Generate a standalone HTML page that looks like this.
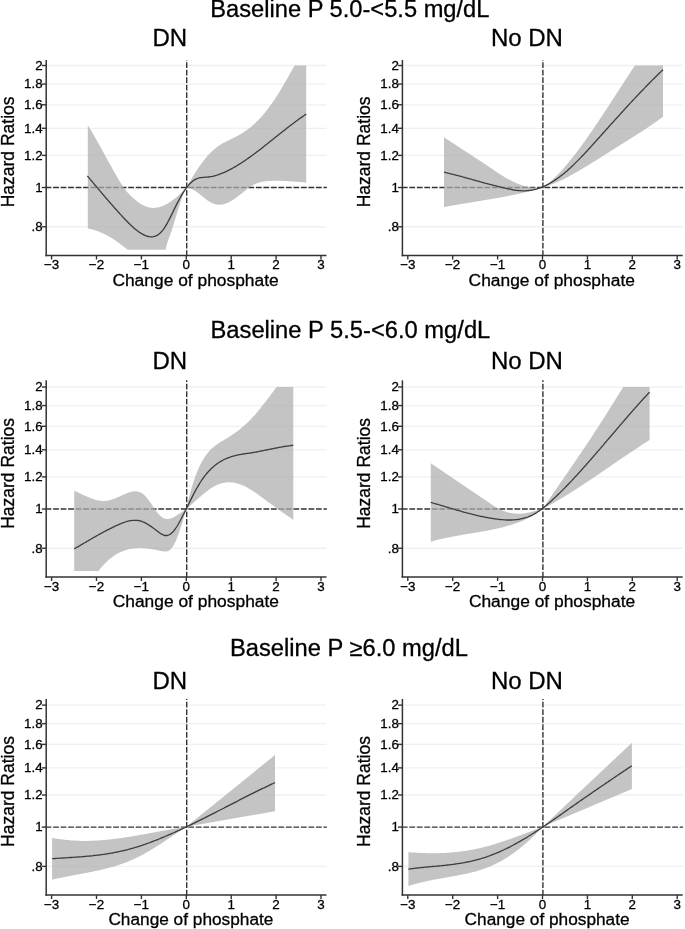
<!DOCTYPE html><html><head><meta charset="utf-8"><style>html,body{margin:0;padding:0;background:#fff;}svg{display:block;}text{font-family:"Liberation Sans",Arial,sans-serif;fill:#000;stroke:#000;stroke-width:0.3px;}</style></head><body>
<svg width="685" height="929" viewBox="0 0 685 929">
<rect width="685" height="929" fill="#ffffff"/>
<text x="210.3" y="16.8" font-size="23.5" textLength="279.1" lengthAdjust="spacingAndGlyphs">Baseline P 5.0-&lt;5.5 mg/dL</text>
<g><line x1="46.20" y1="226.77" x2="326.50" y2="226.77" stroke="#ebf2f2" stroke-width="1.3"/><line x1="46.20" y1="155.41" x2="326.50" y2="155.41" stroke="#ebf2f2" stroke-width="1.3"/><line x1="46.20" y1="128.28" x2="326.50" y2="128.28" stroke="#ebf2f2" stroke-width="1.3"/><line x1="46.20" y1="104.78" x2="326.50" y2="104.78" stroke="#ebf2f2" stroke-width="1.3"/><line x1="46.20" y1="84.05" x2="326.50" y2="84.05" stroke="#ebf2f2" stroke-width="1.3"/><line x1="46.20" y1="65.51" x2="326.50" y2="65.51" stroke="#ebf2f2" stroke-width="1.3"/><line x1="45.60" y1="187.50" x2="326.90" y2="187.50" stroke="#333333" stroke-width="1.4" stroke-dasharray="5.8 1.71"/><line x1="186.70" y1="256.00" x2="186.70" y2="59.90" stroke="#333333" stroke-width="1.4" stroke-dasharray="5.8 1.72"/><path d="M87.8,125.2 L88.8,126.8 89.8,128.5 90.8,130.1 91.8,131.8 92.8,133.5 93.8,135.2 94.8,137.0 95.8,138.7 96.8,140.5 97.8,142.2 98.8,144.0 99.8,145.8 100.8,147.6 101.8,149.4 102.8,151.2 103.8,153.1 104.8,154.9 105.8,156.7 106.8,158.5 107.8,160.4 108.8,162.2 109.8,164.0 110.8,165.8 111.8,167.6 112.8,169.4 113.8,171.2 114.8,173.0 115.8,174.7 116.8,176.5 117.8,178.2 118.8,179.9 119.8,181.5 120.8,183.1 121.8,184.6 122.8,186.1 123.8,187.6 124.8,189.0 125.8,190.3 126.8,191.5 127.8,192.7 128.8,193.8 129.8,194.9 130.8,195.9 131.8,196.8 132.8,197.7 133.8,198.6 134.8,199.5 135.8,200.3 136.8,201.1 137.8,201.9 138.8,202.6 139.8,203.3 140.8,203.9 141.8,204.5 142.8,205.1 143.8,205.6 144.8,206.1 145.8,206.5 146.8,206.8 147.8,207.1 148.8,207.4 149.8,207.6 150.8,207.7 151.8,207.8 152.8,207.9 153.8,207.9 154.8,207.8 155.8,207.7 156.8,207.6 157.8,207.4 158.8,207.2 159.8,206.9 160.8,206.6 161.8,206.3 162.8,205.9 163.8,205.5 164.8,205.0 165.8,204.5 166.8,204.0 167.8,203.4 168.8,202.8 169.8,202.2 170.8,201.5 171.8,200.8 172.8,200.1 173.8,199.3 174.8,198.5 175.8,197.7 176.8,196.9 177.8,196.0 178.8,195.1 179.8,194.1 180.8,193.2 181.8,192.2 182.8,191.2 183.8,190.2 184.8,189.1 185.8,188.0 186.3,187.5 186.3,187.5 187.3,185.7 188.3,184.0 189.3,182.3 190.3,180.6 191.3,178.9 192.3,177.3 193.3,175.7 194.3,174.1 195.3,172.5 196.3,171.0 197.3,169.5 198.3,168.0 199.3,166.6 200.3,165.2 201.3,163.8 202.3,162.4 203.3,161.1 204.3,159.9 205.3,158.6 206.3,157.4 207.3,156.2 208.3,155.1 209.3,154.0 210.3,153.0 211.3,152.0 212.3,151.0 213.3,150.1 214.3,149.2 215.3,148.4 216.3,147.6 217.3,146.8 218.3,146.1 219.3,145.4 220.3,144.8 221.3,144.2 222.3,143.6 223.3,143.0 224.3,142.4 225.3,141.9 226.3,141.4 227.3,140.9 228.3,140.4 229.3,139.9 230.3,139.4 231.3,138.9 232.3,138.4 233.3,138.0 234.3,137.5 235.3,137.0 236.3,136.5 237.3,135.9 238.3,135.4 239.3,134.8 240.3,134.3 241.3,133.7 242.3,133.0 243.3,132.4 244.3,131.8 245.3,131.1 246.3,130.4 247.3,129.7 248.3,128.9 249.3,128.2 250.3,127.4 251.3,126.5 252.3,125.7 253.3,124.8 254.3,123.9 255.3,123.0 256.3,122.1 257.3,121.1 258.3,120.1 259.3,119.1 260.3,118.0 261.3,116.9 262.3,115.8 263.3,114.6 264.3,113.4 265.3,112.2 266.3,110.9 267.3,109.7 268.3,108.3 269.3,107.0 270.3,105.6 271.3,104.2 272.3,102.8 273.3,101.3 274.3,99.9 275.3,98.4 276.3,96.8 277.3,95.2 278.3,93.7 279.3,92.0 280.3,90.4 281.3,88.7 282.3,87.1 283.3,85.4 284.3,83.6 285.3,81.9 286.3,80.2 287.3,78.4 288.3,76.7 289.3,74.9 290.3,73.1 291.3,71.4 292.3,69.6 293.3,67.9 294.3,66.1 294.7,65.4 306.2,65.4 306.2,182.5 305.3,182.4 304.3,182.4 303.3,182.3 302.3,182.2 301.3,182.1 300.3,182.1 299.3,182.0 298.3,181.9 297.3,181.8 296.3,181.7 295.3,181.7 294.3,181.6 293.3,181.5 292.3,181.4 291.3,181.4 290.3,181.3 289.3,181.2 288.3,181.2 287.3,181.1 286.3,181.0 285.3,181.0 284.3,180.9 283.3,180.9 282.3,180.9 281.3,180.8 280.3,180.8 279.3,180.8 278.3,180.8 277.3,180.8 276.3,180.8 275.3,180.8 274.3,180.8 273.3,180.8 272.3,180.8 271.3,180.9 270.3,180.9 269.3,181.0 268.3,181.1 267.3,181.1 266.3,181.2 265.3,181.3 264.3,181.5 263.3,181.6 262.3,181.8 261.3,182.0 260.3,182.2 259.3,182.5 258.3,182.8 257.3,183.2 256.3,183.5 255.3,184.0 254.3,184.4 253.3,185.0 252.3,185.5 251.3,186.1 250.3,186.7 249.3,187.4 248.3,188.1 247.3,188.9 246.3,189.6 245.3,190.4 244.3,191.2 243.3,192.1 242.3,192.9 241.3,193.7 240.3,194.5 239.3,195.3 238.3,196.1 237.3,196.9 236.3,197.6 235.3,198.4 234.3,199.1 233.3,199.7 232.3,200.3 231.3,200.9 230.3,201.5 229.3,202.0 228.3,202.5 227.3,202.9 226.3,203.3 225.3,203.7 224.3,204.0 223.3,204.3 222.3,204.5 221.3,204.6 220.3,204.7 219.3,204.7 218.3,204.7 217.3,204.6 216.3,204.5 215.3,204.3 214.3,204.0 213.3,203.6 212.3,203.2 211.3,202.7 210.3,202.2 209.3,201.6 208.3,200.9 207.3,200.2 206.3,199.5 205.3,198.7 204.3,197.9 203.3,197.1 202.3,196.3 201.3,195.5 200.3,194.7 199.3,193.9 198.3,193.1 197.3,192.4 196.3,191.7 195.3,191.0 194.3,190.3 193.3,189.7 192.3,189.2 191.3,188.7 190.3,188.3 189.3,188.0 188.3,187.7 187.3,187.6 186.3,187.5 186.3,187.5 185.6,188.9 184.6,191.0 183.6,193.4 182.6,196.0 181.6,198.8 180.6,201.7 179.6,204.8 178.6,207.9 177.6,211.2 176.6,214.5 175.6,217.8 174.6,221.1 173.6,224.4 172.6,227.6 171.6,230.7 170.6,233.6 169.6,236.3 168.6,238.9 167.6,241.8 166.6,245.3 165.6,249.8 127.6,249.8 126.8,249.1 125.8,248.3 124.8,247.5 123.8,246.7 122.8,245.9 121.8,245.2 120.8,244.4 119.8,243.6 118.8,242.9 117.8,242.2 116.8,241.5 115.8,240.8 114.8,240.1 113.8,239.4 112.8,238.8 111.8,238.1 110.8,237.5 109.8,236.9 108.8,236.4 107.8,235.8 106.8,235.3 105.8,234.8 104.8,234.3 103.8,233.8 102.8,233.3 101.8,232.9 100.8,232.4 99.8,232.0 98.8,231.6 97.8,231.3 96.8,230.9 95.8,230.6 94.8,230.2 93.8,229.9 92.8,229.6 91.8,229.4 90.8,229.1 89.8,228.9 88.8,228.6 87.8,228.4 Z" fill="#aeaeae" fill-opacity="0.730" stroke="none"/><path d="M87.4,176.0 L88.4,177.2 89.4,178.4 90.4,179.6 91.4,180.7 92.4,181.9 93.4,183.1 94.4,184.3 95.4,185.5 96.4,186.7 97.4,187.9 98.4,189.1 99.4,190.2 100.4,191.4 101.4,192.6 102.4,193.8 103.4,195.0 104.4,196.1 105.4,197.3 106.4,198.5 107.4,199.6 108.4,200.8 109.4,202.0 110.4,203.1 111.4,204.3 112.4,205.4 113.4,206.5 114.4,207.7 115.4,208.8 116.4,209.9 117.4,211.0 118.4,212.2 119.4,213.3 120.4,214.4 121.4,215.4 122.4,216.5 123.4,217.6 124.4,218.7 125.4,219.7 126.4,220.8 127.4,221.8 128.4,222.8 129.4,223.8 130.4,224.8 131.4,225.7 132.4,226.6 133.4,227.5 134.4,228.4 135.4,229.2 136.4,230.0 137.4,230.8 138.4,231.6 139.4,232.3 140.4,232.9 141.4,233.5 142.4,234.1 143.4,234.6 144.4,235.1 145.4,235.6 146.4,235.9 147.4,236.3 148.4,236.5 149.4,236.7 150.4,236.8 151.4,236.9 152.4,236.8 153.4,236.7 154.4,236.4 155.4,236.1 156.4,235.7 157.4,235.1 158.4,234.5 159.4,233.7 160.4,232.8 161.4,231.8 162.4,230.6 163.4,229.3 164.4,227.9 165.4,226.3 166.4,224.7 167.4,222.9 168.4,221.0 169.4,219.1 170.4,217.1 171.4,215.1 172.4,213.1 173.4,211.0 174.4,208.9 175.4,206.9 176.4,204.9 177.4,202.9 178.4,201.0 179.4,199.1 180.4,197.3 181.4,195.6 182.4,193.9 183.4,192.3 184.4,190.7 185.4,189.3 186.4,187.9 187.4,186.6 188.4,185.4 189.4,184.2 190.4,183.2 191.4,182.2 192.4,181.4 193.4,180.6 194.4,179.9 195.4,179.4 196.4,178.9 197.4,178.5 198.4,178.2 199.4,177.9 200.4,177.7 201.4,177.6 202.4,177.5 203.4,177.4 204.4,177.3 205.4,177.2 206.4,177.2 207.4,177.1 208.4,177.0 209.4,176.9 210.4,176.7 211.4,176.6 212.4,176.4 213.4,176.1 214.4,175.9 215.4,175.6 216.4,175.3 217.4,175.0 218.4,174.7 219.4,174.3 220.4,173.9 221.4,173.5 222.4,173.1 223.4,172.7 224.4,172.3 225.4,171.8 226.4,171.3 227.4,170.9 228.4,170.4 229.4,169.9 230.4,169.3 231.4,168.8 232.4,168.3 233.4,167.7 234.4,167.1 235.4,166.6 236.4,166.0 237.4,165.4 238.4,164.7 239.4,164.1 240.4,163.5 241.4,162.9 242.4,162.2 243.4,161.5 244.4,160.9 245.4,160.2 246.4,159.5 247.4,158.8 248.4,158.1 249.4,157.4 250.4,156.7 251.4,156.0 252.4,155.2 253.4,154.5 254.4,153.8 255.4,153.0 256.4,152.3 257.4,151.5 258.4,150.8 259.4,150.0 260.4,149.2 261.4,148.4 262.4,147.7 263.4,146.9 264.4,146.1 265.4,145.3 266.4,144.5 267.4,143.7 268.4,142.9 269.4,142.1 270.4,141.3 271.4,140.5 272.4,139.7 273.4,138.9 274.4,138.1 275.4,137.3 276.4,136.5 277.4,135.7 278.4,134.9 279.4,134.1 280.4,133.3 281.4,132.6 282.4,131.8 283.4,131.0 284.4,130.2 285.4,129.4 286.4,128.6 287.4,127.8 288.4,127.0 289.4,126.3 290.4,125.5 291.4,124.7 292.4,124.0 293.4,123.2 294.4,122.5 295.4,121.7 296.4,121.0 297.4,120.3 298.4,119.5 299.4,118.8 300.4,118.1 301.4,117.4 302.4,116.7 303.4,116.0 304.4,115.3 305.4,114.6 306.2,114.1" fill="none" stroke="#3c3c3c" stroke-width="1.3" stroke-linejoin="round"/><line x1="46.20" y1="59.90" x2="46.20" y2="256.25" stroke="#333333" stroke-width="1.5"/><line x1="45.45" y1="255.50" x2="326.50" y2="255.50" stroke="#333333" stroke-width="1.5"/><line x1="41.80" y1="226.77" x2="46.20" y2="226.77" stroke="#333333" stroke-width="1.4"/><text x="42.60" y="231.07" font-size="13.3" text-anchor="end">.8</text><line x1="41.80" y1="187.50" x2="46.20" y2="187.50" stroke="#333333" stroke-width="1.4"/><text x="42.60" y="191.80" font-size="13.3" text-anchor="end">1</text><line x1="41.80" y1="155.41" x2="46.20" y2="155.41" stroke="#333333" stroke-width="1.4"/><text x="42.60" y="159.71" font-size="13.3" text-anchor="end">1.2</text><line x1="41.80" y1="128.28" x2="46.20" y2="128.28" stroke="#333333" stroke-width="1.4"/><text x="42.60" y="132.58" font-size="13.3" text-anchor="end">1.4</text><line x1="41.80" y1="104.78" x2="46.20" y2="104.78" stroke="#333333" stroke-width="1.4"/><text x="42.60" y="109.08" font-size="13.3" text-anchor="end">1.6</text><line x1="41.80" y1="84.05" x2="46.20" y2="84.05" stroke="#333333" stroke-width="1.4"/><text x="42.60" y="88.35" font-size="13.3" text-anchor="end">1.8</text><line x1="41.80" y1="65.51" x2="46.20" y2="65.51" stroke="#333333" stroke-width="1.4"/><text x="42.60" y="69.81" font-size="13.3" text-anchor="end">2</text><line x1="51.60" y1="255.50" x2="51.60" y2="259.50" stroke="#333333" stroke-width="1.4"/><text x="51.60" y="269.20" font-size="13.4" text-anchor="middle">−3</text><line x1="96.50" y1="255.50" x2="96.50" y2="259.50" stroke="#333333" stroke-width="1.4"/><text x="96.50" y="269.20" font-size="13.4" text-anchor="middle">−2</text><line x1="141.40" y1="255.50" x2="141.40" y2="259.50" stroke="#333333" stroke-width="1.4"/><text x="141.40" y="269.20" font-size="13.4" text-anchor="middle">−1</text><line x1="186.30" y1="255.50" x2="186.30" y2="259.50" stroke="#333333" stroke-width="1.4"/><text x="186.30" y="269.20" font-size="13.4" text-anchor="middle">0</text><line x1="231.20" y1="255.50" x2="231.20" y2="259.50" stroke="#333333" stroke-width="1.4"/><text x="231.20" y="269.20" font-size="13.4" text-anchor="middle">1</text><line x1="276.10" y1="255.50" x2="276.10" y2="259.50" stroke="#333333" stroke-width="1.4"/><text x="276.10" y="269.20" font-size="13.4" text-anchor="middle">2</text><line x1="321.00" y1="255.50" x2="321.00" y2="259.50" stroke="#333333" stroke-width="1.4"/><text x="321.00" y="269.20" font-size="13.4" text-anchor="middle">3</text><text transform="translate(14.00,151.90) rotate(-90)" font-size="17.5" text-anchor="middle">Hazard Ratios</text><text x="112.40" y="285.70" font-size="17.3" textLength="166.3" lengthAdjust="spacingAndGlyphs">Change of phosphate</text><text x="152.50" y="46.40" font-size="24">DN</text></g>
<g><line x1="402.40" y1="226.77" x2="682.70" y2="226.77" stroke="#ebf2f2" stroke-width="1.3"/><line x1="402.40" y1="155.41" x2="682.70" y2="155.41" stroke="#ebf2f2" stroke-width="1.3"/><line x1="402.40" y1="128.28" x2="682.70" y2="128.28" stroke="#ebf2f2" stroke-width="1.3"/><line x1="402.40" y1="104.78" x2="682.70" y2="104.78" stroke="#ebf2f2" stroke-width="1.3"/><line x1="402.40" y1="84.05" x2="682.70" y2="84.05" stroke="#ebf2f2" stroke-width="1.3"/><line x1="402.40" y1="65.51" x2="682.70" y2="65.51" stroke="#ebf2f2" stroke-width="1.3"/><line x1="401.80" y1="187.50" x2="683.10" y2="187.50" stroke="#333333" stroke-width="1.4" stroke-dasharray="5.8 1.71"/><line x1="542.90" y1="256.00" x2="542.90" y2="59.90" stroke="#333333" stroke-width="1.4" stroke-dasharray="5.8 1.72"/><path d="M444.0,137.2 L445.0,137.9 446.0,138.5 447.0,139.2 448.0,139.9 449.0,140.5 450.0,141.2 451.0,141.9 452.0,142.5 453.0,143.2 454.0,143.8 455.0,144.5 456.0,145.1 457.0,145.8 458.0,146.4 459.0,147.1 460.0,147.7 461.0,148.4 462.0,149.1 463.0,149.7 464.0,150.4 465.0,151.0 466.0,151.7 467.0,152.3 468.0,153.0 469.0,153.6 470.0,154.3 471.0,154.9 472.0,155.6 473.0,156.2 474.0,156.9 475.0,157.5 476.0,158.2 477.0,158.8 478.0,159.5 479.0,160.2 480.0,160.8 481.0,161.5 482.0,162.1 483.0,162.8 484.0,163.5 485.0,164.1 486.0,164.8 487.0,165.5 488.0,166.1 489.0,166.8 490.0,167.5 491.0,168.2 492.0,168.8 493.0,169.5 494.0,170.2 495.0,170.9 496.0,171.5 497.0,172.2 498.0,172.9 499.0,173.5 500.0,174.2 501.0,174.8 502.0,175.4 503.0,176.0 504.0,176.7 505.0,177.3 506.0,177.9 507.0,178.4 508.0,179.0 509.0,179.6 510.0,180.1 511.0,180.6 512.0,181.1 513.0,181.6 514.0,182.1 515.0,182.6 516.0,183.0 517.0,183.4 518.0,183.8 519.0,184.2 520.0,184.6 521.0,185.0 522.0,185.3 523.0,185.6 524.0,185.9 525.0,186.2 526.0,186.4 527.0,186.6 528.0,186.9 529.0,187.0 530.0,187.2 531.0,187.3 532.0,187.5 533.0,187.6 534.0,187.6 535.0,187.7 536.0,187.7 537.0,187.7 538.0,187.7 539.0,187.7 540.0,187.6 541.0,187.5 542.0,187.4 542.9,187.3 542.9,187.3 543.9,186.6 544.9,185.9 545.9,185.2 546.9,184.4 547.9,183.6 548.9,182.8 549.9,182.0 550.9,181.1 551.9,180.2 552.9,179.3 553.9,178.4 554.9,177.4 555.9,176.4 556.9,175.4 557.9,174.4 558.9,173.4 559.9,172.3 560.9,171.3 561.9,170.2 562.9,169.1 563.9,167.9 564.9,166.8 565.9,165.6 566.9,164.4 567.9,163.2 568.9,162.0 569.9,160.8 570.9,159.5 571.9,158.3 572.9,157.0 573.9,155.7 574.9,154.5 575.9,153.2 576.9,151.8 577.9,150.5 578.9,149.2 579.9,147.8 580.9,146.5 581.9,145.1 582.9,143.7 583.9,142.3 584.9,140.9 585.9,139.5 586.9,138.1 587.9,136.7 588.9,135.3 589.9,133.8 590.9,132.4 591.9,130.9 592.9,129.5 593.9,128.0 594.9,126.5 595.9,125.1 596.9,123.6 597.9,122.1 598.9,120.6 599.9,119.1 600.9,117.6 601.9,116.1 602.9,114.6 603.9,113.0 604.9,111.5 605.9,110.0 606.9,108.5 607.9,106.9 608.9,105.4 609.9,103.9 610.9,102.3 611.9,100.8 612.9,99.3 613.9,97.7 614.9,96.2 615.9,94.6 616.9,93.1 617.9,91.5 618.9,90.0 619.9,88.5 620.9,86.9 621.9,85.4 622.9,83.8 623.9,82.3 624.9,80.8 625.9,79.2 626.9,77.7 627.9,76.2 628.9,74.6 629.9,73.1 630.9,71.6 631.9,70.1 632.9,68.6 633.9,67.1 634.9,65.6 635.0,65.4 663.0,65.4 663.0,116.6 662.9,116.7 661.9,117.4 660.9,118.2 659.9,119.0 658.9,119.7 657.9,120.4 656.9,121.2 655.9,121.9 654.9,122.6 653.9,123.3 652.9,124.0 651.9,124.7 650.9,125.4 649.9,126.1 648.9,126.8 647.9,127.5 646.9,128.1 645.9,128.8 644.9,129.4 643.9,130.1 642.9,130.8 641.9,131.4 640.9,132.0 639.9,132.7 638.9,133.3 637.9,134.0 636.9,134.6 635.9,135.2 634.9,135.9 633.9,136.5 632.9,137.1 631.9,137.8 630.9,138.4 629.9,139.0 628.9,139.6 627.9,140.3 626.9,140.9 625.9,141.5 624.9,142.1 623.9,142.8 622.9,143.4 621.9,144.0 620.9,144.6 619.9,145.3 618.9,145.9 617.9,146.5 616.9,147.2 615.9,147.8 614.9,148.4 613.9,149.1 612.9,149.7 611.9,150.3 610.9,151.0 609.9,151.6 608.9,152.2 607.9,152.9 606.9,153.5 605.9,154.1 604.9,154.8 603.9,155.4 602.9,156.0 601.9,156.7 600.9,157.3 599.9,157.9 598.9,158.5 597.9,159.2 596.9,159.8 595.9,160.4 594.9,161.1 593.9,161.7 592.9,162.3 591.9,162.9 590.9,163.5 589.9,164.2 588.9,164.8 587.9,165.4 586.9,166.0 585.9,166.6 584.9,167.2 583.9,167.8 582.9,168.4 581.9,169.0 580.9,169.6 579.9,170.2 578.9,170.8 577.9,171.4 576.9,171.9 575.9,172.5 574.9,173.1 573.9,173.6 572.9,174.2 571.9,174.8 570.9,175.3 569.9,175.8 568.9,176.4 567.9,176.9 566.9,177.4 565.9,177.9 564.9,178.4 563.9,178.9 562.9,179.4 561.9,179.9 560.9,180.4 559.9,180.8 558.9,181.3 557.9,181.8 556.9,182.2 555.9,182.6 554.9,183.0 553.9,183.5 552.9,183.9 551.9,184.3 550.9,184.6 549.9,185.0 548.9,185.4 547.9,185.7 546.9,186.1 545.9,186.4 544.9,186.7 543.9,187.0 542.9,187.3 542.9,187.3 542.0,187.6 541.0,187.9 540.0,188.2 539.0,188.5 538.0,188.8 537.0,189.1 536.0,189.4 535.0,189.7 534.0,189.9 533.0,190.2 532.0,190.5 531.0,190.8 530.0,191.0 529.0,191.3 528.0,191.5 527.0,191.8 526.0,192.1 525.0,192.3 524.0,192.5 523.0,192.8 522.0,193.0 521.0,193.3 520.0,193.5 519.0,193.7 518.0,193.9 517.0,194.2 516.0,194.4 515.0,194.6 514.0,194.8 513.0,195.0 512.0,195.2 511.0,195.4 510.0,195.6 509.0,195.8 508.0,196.0 507.0,196.2 506.0,196.4 505.0,196.6 504.0,196.8 503.0,197.0 502.0,197.2 501.0,197.4 500.0,197.5 499.0,197.7 498.0,197.9 497.0,198.1 496.0,198.3 495.0,198.4 494.0,198.6 493.0,198.8 492.0,198.9 491.0,199.1 490.0,199.3 489.0,199.5 488.0,199.6 487.0,199.8 486.0,200.0 485.0,200.1 484.0,200.3 483.0,200.4 482.0,200.6 481.0,200.8 480.0,200.9 479.0,201.1 478.0,201.3 477.0,201.4 476.0,201.6 475.0,201.7 474.0,201.9 473.0,202.1 472.0,202.2 471.0,202.4 470.0,202.5 469.0,202.7 468.0,202.9 467.0,203.0 466.0,203.2 465.0,203.4 464.0,203.5 463.0,203.7 462.0,203.9 461.0,204.0 460.0,204.2 459.0,204.4 458.0,204.5 457.0,204.7 456.0,204.9 455.0,205.1 454.0,205.2 453.0,205.4 452.0,205.6 451.0,205.8 450.0,206.0 449.0,206.1 448.0,206.3 447.0,206.5 446.0,206.7 445.0,206.9 444.0,207.1 Z" fill="#aeaeae" fill-opacity="0.730" stroke="none"/><path d="M444.0,172.1 L445.0,172.3 446.0,172.6 447.0,172.8 448.0,173.1 449.0,173.3 450.0,173.6 451.0,173.8 452.0,174.1 453.0,174.3 454.0,174.6 455.0,174.8 456.0,175.1 457.0,175.4 458.0,175.6 459.0,175.9 460.0,176.2 461.0,176.4 462.0,176.7 463.0,177.0 464.0,177.3 465.0,177.5 466.0,177.8 467.0,178.1 468.0,178.4 469.0,178.6 470.0,178.9 471.0,179.2 472.0,179.5 473.0,179.8 474.0,180.0 475.0,180.3 476.0,180.6 477.0,180.9 478.0,181.1 479.0,181.4 480.0,181.7 481.0,182.0 482.0,182.3 483.0,182.5 484.0,182.8 485.0,183.1 486.0,183.4 487.0,183.6 488.0,183.9 489.0,184.2 490.0,184.4 491.0,184.7 492.0,185.0 493.0,185.2 494.0,185.5 495.0,185.7 496.0,186.0 497.0,186.2 498.0,186.5 499.0,186.7 500.0,187.0 501.0,187.2 502.0,187.5 503.0,187.7 504.0,187.9 505.0,188.2 506.0,188.4 507.0,188.6 508.0,188.8 509.0,189.0 510.0,189.2 511.0,189.4 512.0,189.6 513.0,189.8 514.0,190.0 515.0,190.1 516.0,190.3 517.0,190.4 518.0,190.5 519.0,190.6 520.0,190.7 521.0,190.7 522.0,190.8 523.0,190.8 524.0,190.8 525.0,190.8 526.0,190.8 527.0,190.7 528.0,190.6 529.0,190.5 530.0,190.4 531.0,190.3 532.0,190.1 533.0,189.9 534.0,189.7 535.0,189.4 536.0,189.2 537.0,188.9 538.0,188.6 539.0,188.2 540.0,187.9 541.0,187.5 542.0,187.1 543.0,186.7 544.0,186.3 545.0,185.8 546.0,185.3 547.0,184.8 548.0,184.3 549.0,183.8 550.0,183.2 551.0,182.6 552.0,182.0 553.0,181.4 554.0,180.8 555.0,180.1 556.0,179.4 557.0,178.7 558.0,178.0 559.0,177.3 560.0,176.6 561.0,175.8 562.0,175.0 563.0,174.2 564.0,173.4 565.0,172.6 566.0,171.7 567.0,170.9 568.0,170.0 569.0,169.1 570.0,168.2 571.0,167.3 572.0,166.3 573.0,165.4 574.0,164.4 575.0,163.4 576.0,162.4 577.0,161.4 578.0,160.4 579.0,159.4 580.0,158.4 581.0,157.4 582.0,156.3 583.0,155.2 584.0,154.2 585.0,153.1 586.0,152.0 587.0,151.0 588.0,149.9 589.0,148.8 590.0,147.7 591.0,146.6 592.0,145.5 593.0,144.4 594.0,143.3 595.0,142.2 596.0,141.0 597.0,139.9 598.0,138.8 599.0,137.7 600.0,136.6 601.0,135.5 602.0,134.3 603.0,133.2 604.0,132.1 605.0,131.0 606.0,129.9 607.0,128.8 608.0,127.7 609.0,126.5 610.0,125.4 611.0,124.3 612.0,123.2 613.0,122.1 614.0,121.0 615.0,119.9 616.0,118.8 617.0,117.7 618.0,116.6 619.0,115.5 620.0,114.4 621.0,113.3 622.0,112.2 623.0,111.1 624.0,110.0 625.0,108.9 626.0,107.8 627.0,106.7 628.0,105.6 629.0,104.5 630.0,103.4 631.0,102.4 632.0,101.3 633.0,100.2 634.0,99.1 635.0,98.1 636.0,97.0 637.0,96.0 638.0,94.9 639.0,93.8 640.0,92.8 641.0,91.7 642.0,90.7 643.0,89.7 644.0,88.6 645.0,87.6 646.0,86.5 647.0,85.5 648.0,84.5 649.0,83.5 650.0,82.5 651.0,81.5 652.0,80.4 653.0,79.4 654.0,78.5 655.0,77.5 656.0,76.5 657.0,75.5 658.0,74.5 659.0,73.5 660.0,72.6 661.0,71.6 662.0,70.7 663.0,69.7" fill="none" stroke="#3c3c3c" stroke-width="1.3" stroke-linejoin="round"/><line x1="402.40" y1="59.90" x2="402.40" y2="256.25" stroke="#333333" stroke-width="1.5"/><line x1="401.65" y1="255.50" x2="682.70" y2="255.50" stroke="#333333" stroke-width="1.5"/><line x1="398.00" y1="226.77" x2="402.40" y2="226.77" stroke="#333333" stroke-width="1.4"/><text x="398.80" y="231.07" font-size="13.3" text-anchor="end">.8</text><line x1="398.00" y1="187.50" x2="402.40" y2="187.50" stroke="#333333" stroke-width="1.4"/><text x="398.80" y="191.80" font-size="13.3" text-anchor="end">1</text><line x1="398.00" y1="155.41" x2="402.40" y2="155.41" stroke="#333333" stroke-width="1.4"/><text x="398.80" y="159.71" font-size="13.3" text-anchor="end">1.2</text><line x1="398.00" y1="128.28" x2="402.40" y2="128.28" stroke="#333333" stroke-width="1.4"/><text x="398.80" y="132.58" font-size="13.3" text-anchor="end">1.4</text><line x1="398.00" y1="104.78" x2="402.40" y2="104.78" stroke="#333333" stroke-width="1.4"/><text x="398.80" y="109.08" font-size="13.3" text-anchor="end">1.6</text><line x1="398.00" y1="84.05" x2="402.40" y2="84.05" stroke="#333333" stroke-width="1.4"/><text x="398.80" y="88.35" font-size="13.3" text-anchor="end">1.8</text><line x1="398.00" y1="65.51" x2="402.40" y2="65.51" stroke="#333333" stroke-width="1.4"/><text x="398.80" y="69.81" font-size="13.3" text-anchor="end">2</text><line x1="407.80" y1="255.50" x2="407.80" y2="259.50" stroke="#333333" stroke-width="1.4"/><text x="407.80" y="269.20" font-size="13.4" text-anchor="middle">−3</text><line x1="452.70" y1="255.50" x2="452.70" y2="259.50" stroke="#333333" stroke-width="1.4"/><text x="452.70" y="269.20" font-size="13.4" text-anchor="middle">−2</text><line x1="497.60" y1="255.50" x2="497.60" y2="259.50" stroke="#333333" stroke-width="1.4"/><text x="497.60" y="269.20" font-size="13.4" text-anchor="middle">−1</text><line x1="542.50" y1="255.50" x2="542.50" y2="259.50" stroke="#333333" stroke-width="1.4"/><text x="542.50" y="269.20" font-size="13.4" text-anchor="middle">0</text><line x1="587.40" y1="255.50" x2="587.40" y2="259.50" stroke="#333333" stroke-width="1.4"/><text x="587.40" y="269.20" font-size="13.4" text-anchor="middle">1</text><line x1="632.30" y1="255.50" x2="632.30" y2="259.50" stroke="#333333" stroke-width="1.4"/><text x="632.30" y="269.20" font-size="13.4" text-anchor="middle">2</text><line x1="677.20" y1="255.50" x2="677.20" y2="259.50" stroke="#333333" stroke-width="1.4"/><text x="677.20" y="269.20" font-size="13.4" text-anchor="middle">3</text><text transform="translate(370.20,151.90) rotate(-90)" font-size="17.5" text-anchor="middle">Hazard Ratios</text><text x="468.60" y="285.70" font-size="17.3" textLength="166.3" lengthAdjust="spacingAndGlyphs">Change of phosphate</text><text x="490.90" y="46.40" font-size="24">No DN</text></g>
<text x="210.5" y="337.6" font-size="23.5" textLength="279.8" lengthAdjust="spacingAndGlyphs">Baseline P 5.5-&lt;6.0 mg/dL</text>
<g><line x1="46.20" y1="548.27" x2="326.50" y2="548.27" stroke="#ebf2f2" stroke-width="1.3"/><line x1="46.20" y1="476.91" x2="326.50" y2="476.91" stroke="#ebf2f2" stroke-width="1.3"/><line x1="46.20" y1="449.78" x2="326.50" y2="449.78" stroke="#ebf2f2" stroke-width="1.3"/><line x1="46.20" y1="426.28" x2="326.50" y2="426.28" stroke="#ebf2f2" stroke-width="1.3"/><line x1="46.20" y1="405.55" x2="326.50" y2="405.55" stroke="#ebf2f2" stroke-width="1.3"/><line x1="46.20" y1="387.01" x2="326.50" y2="387.01" stroke="#ebf2f2" stroke-width="1.3"/><line x1="45.60" y1="509.00" x2="326.90" y2="509.00" stroke="#333333" stroke-width="1.4" stroke-dasharray="5.8 1.71"/><line x1="186.70" y1="577.50" x2="186.70" y2="380.30" stroke="#333333" stroke-width="1.4" stroke-dasharray="5.8 1.72"/><path d="M74.2,490.8 L75.2,491.2 76.2,491.7 77.2,492.1 78.2,492.6 79.2,493.0 80.2,493.5 81.2,494.0 82.2,494.4 83.2,494.9 84.2,495.4 85.2,495.8 86.2,496.3 87.2,496.7 88.2,497.1 89.2,497.6 90.2,498.0 91.2,498.3 92.2,498.7 93.2,499.0 94.2,499.4 95.2,499.7 96.2,499.9 97.2,500.2 98.2,500.4 99.2,500.6 100.2,500.7 101.2,500.8 102.2,500.9 103.2,501.0 104.2,501.0 105.2,500.9 106.2,500.8 107.2,500.7 108.2,500.5 109.2,500.3 110.2,500.1 111.2,499.8 112.2,499.5 113.2,499.1 114.2,498.8 115.2,498.4 116.2,498.0 117.2,497.5 118.2,497.1 119.2,496.7 120.2,496.2 121.2,495.8 122.2,495.3 123.2,494.8 124.2,494.4 125.2,494.0 126.2,493.5 127.2,493.1 128.2,492.7 129.2,492.4 130.2,492.1 131.2,491.8 132.2,491.6 133.2,491.4 134.2,491.3 135.2,491.2 136.2,491.3 137.2,491.4 138.2,491.6 139.2,491.9 140.2,492.3 141.2,492.8 142.2,493.4 143.2,494.1 144.2,495.0 145.2,496.0 146.2,497.1 147.2,498.3 148.2,499.5 149.2,500.9 150.2,502.3 151.2,503.7 152.2,505.2 153.2,506.7 154.2,508.2 155.2,509.6 156.2,511.1 157.2,512.4 158.2,513.6 159.2,514.7 160.2,515.7 161.2,516.6 162.2,517.3 163.2,517.9 164.2,518.3 165.2,518.7 166.2,518.9 167.2,519.0 168.2,519.0 169.2,518.9 170.2,518.6 171.2,518.3 172.2,517.9 173.2,517.4 174.2,516.9 175.2,516.3 176.2,515.7 177.2,515.1 178.2,514.5 179.2,513.8 180.2,513.2 181.2,512.5 182.2,511.9 183.2,511.2 184.2,510.5 185.2,509.8 186.2,509.1 186.3,509.0 186.3,509.0 187.3,504.6 188.3,500.4 189.3,496.4 190.3,492.6 191.3,489.0 192.3,485.6 193.3,482.4 194.3,479.4 195.3,476.6 196.3,473.9 197.3,471.4 198.3,469.1 199.3,466.8 200.3,464.8 201.3,462.8 202.3,461.0 203.3,459.3 204.3,457.7 205.3,456.2 206.3,454.8 207.3,453.5 208.3,452.3 209.3,451.1 210.3,450.1 211.3,449.1 212.3,448.1 213.3,447.2 214.3,446.4 215.3,445.6 216.3,444.9 217.3,444.1 218.3,443.5 219.3,442.8 220.3,442.2 221.3,441.6 222.3,440.9 223.3,440.4 224.3,439.8 225.3,439.2 226.3,438.6 227.3,438.0 228.3,437.4 229.3,436.7 230.3,436.1 231.3,435.4 232.3,434.8 233.3,434.1 234.3,433.4 235.3,432.7 236.3,432.0 237.3,431.2 238.3,430.5 239.3,429.7 240.3,428.9 241.3,428.1 242.3,427.3 243.3,426.4 244.3,425.5 245.3,424.6 246.3,423.7 247.3,422.8 248.3,421.8 249.3,420.8 250.3,419.8 251.3,418.8 252.3,417.7 253.3,416.6 254.3,415.5 255.3,414.4 256.3,413.2 257.3,412.0 258.3,410.8 259.3,409.6 260.3,408.4 261.3,407.1 262.3,405.8 263.3,404.6 264.3,403.3 265.3,402.0 266.3,400.7 267.3,399.3 268.3,398.0 269.3,396.7 270.3,395.4 271.3,394.0 272.3,392.7 273.3,391.4 274.3,390.0 275.3,388.7 276.3,387.4 276.5,387.1 293.3,387.1 293.3,520.0 292.3,519.3 291.3,518.6 290.3,517.8 289.3,517.1 288.3,516.4 287.3,515.7 286.3,515.0 285.3,514.3 284.3,513.6 283.3,512.9 282.3,512.2 281.3,511.4 280.3,510.7 279.3,510.0 278.3,509.3 277.3,508.6 276.3,507.9 275.3,507.2 274.3,506.5 273.3,505.7 272.3,505.0 271.3,504.3 270.3,503.6 269.3,502.8 268.3,502.1 267.3,501.4 266.3,500.6 265.3,499.9 264.3,499.1 263.3,498.4 262.3,497.6 261.3,496.9 260.3,496.2 259.3,495.4 258.3,494.7 257.3,494.0 256.3,493.3 255.3,492.6 254.3,491.9 253.3,491.3 252.3,490.6 251.3,490.0 250.3,489.4 249.3,488.8 248.3,488.2 247.3,487.6 246.3,487.1 245.3,486.6 244.3,486.1 243.3,485.6 242.3,485.2 241.3,484.8 240.3,484.4 239.3,484.1 238.3,483.8 237.3,483.5 236.3,483.2 235.3,483.0 234.3,482.8 233.3,482.6 232.3,482.5 231.3,482.4 230.3,482.3 229.3,482.3 228.3,482.3 227.3,482.3 226.3,482.4 225.3,482.5 224.3,482.7 223.3,482.9 222.3,483.1 221.3,483.4 220.3,483.7 219.3,484.0 218.3,484.4 217.3,484.8 216.3,485.3 215.3,485.8 214.3,486.3 213.3,486.9 212.3,487.5 211.3,488.1 210.3,488.8 209.3,489.5 208.3,490.2 207.3,491.0 206.3,491.7 205.3,492.5 204.3,493.3 203.3,494.1 202.3,495.0 201.3,495.8 200.3,496.7 199.3,497.5 198.3,498.4 197.3,499.3 196.3,500.2 195.3,501.1 194.3,502.0 193.3,502.9 192.3,503.8 191.3,504.7 190.3,505.5 189.3,506.4 188.3,507.3 187.3,508.2 186.3,509.0 186.3,509.0 185.5,511.8 184.5,515.2 183.5,518.6 182.5,522.0 181.5,525.2 180.5,528.3 179.5,531.3 178.5,534.1 177.5,536.8 176.5,539.3 175.5,541.6 174.5,543.6 173.5,545.4 172.5,546.9 171.5,548.3 170.5,549.4 169.5,550.2 168.5,550.9 167.5,551.3 166.5,551.5 165.5,551.6 164.5,551.6 163.5,551.5 162.5,551.3 161.5,551.1 160.5,550.9 159.5,550.7 158.5,550.5 157.5,550.2 156.5,550.0 155.5,549.8 154.5,549.7 153.5,549.5 152.5,549.3 151.5,549.1 150.5,549.0 149.5,548.8 148.5,548.7 147.5,548.6 146.5,548.5 145.5,548.4 144.5,548.3 143.5,548.2 142.5,548.2 141.5,548.1 140.5,548.1 139.5,548.1 138.5,548.1 137.5,548.1 136.5,548.2 135.5,548.2 134.5,548.3 133.5,548.4 132.5,548.6 131.5,548.7 130.5,548.9 129.5,549.1 128.5,549.3 127.5,549.6 126.5,549.9 125.5,550.2 124.5,550.5 123.5,550.9 122.5,551.3 121.5,551.7 120.5,552.1 119.5,552.6 118.5,553.1 117.5,553.6 116.5,554.2 115.5,554.8 114.5,555.5 113.5,556.1 112.5,556.9 111.5,557.6 110.5,558.4 109.5,559.2 108.5,560.1 107.5,561.0 106.5,561.9 105.5,562.9 104.5,563.9 103.5,565.0 102.5,566.1 101.5,567.2 100.5,568.4 99.5,569.6 98.5,570.9 74.2,570.9 Z" fill="#aeaeae" fill-opacity="0.730" stroke="none"/><path d="M74.2,548.9 L75.2,548.3 76.2,547.7 77.2,547.2 78.2,546.6 79.2,546.0 80.2,545.4 81.2,544.8 82.2,544.2 83.2,543.6 84.2,543.0 85.2,542.5 86.2,541.9 87.2,541.3 88.2,540.7 89.2,540.1 90.2,539.5 91.2,539.0 92.2,538.4 93.2,537.8 94.2,537.2 95.2,536.7 96.2,536.1 97.2,535.5 98.2,535.0 99.2,534.4 100.2,533.8 101.2,533.3 102.2,532.8 103.2,532.2 104.2,531.7 105.2,531.1 106.2,530.6 107.2,530.1 108.2,529.6 109.2,529.1 110.2,528.6 111.2,528.1 112.2,527.6 113.2,527.1 114.2,526.6 115.2,526.1 116.2,525.7 117.2,525.2 118.2,524.8 119.2,524.3 120.2,523.9 121.2,523.5 122.2,523.1 123.2,522.7 124.2,522.4 125.2,522.0 126.2,521.7 127.2,521.4 128.2,521.2 129.2,520.9 130.2,520.7 131.2,520.6 132.2,520.4 133.2,520.3 134.2,520.3 135.2,520.3 136.2,520.3 137.2,520.4 138.2,520.5 139.2,520.7 140.2,520.9 141.2,521.2 142.2,521.6 143.2,522.0 144.2,522.4 145.2,522.9 146.2,523.4 147.2,524.0 148.2,524.6 149.2,525.2 150.2,525.9 151.2,526.6 152.2,527.3 153.2,528.0 154.2,528.8 155.2,529.5 156.2,530.3 157.2,531.1 158.2,531.8 159.2,532.6 160.2,533.3 161.2,533.9 162.2,534.4 163.2,534.9 164.2,535.3 165.2,535.5 166.2,535.5 167.2,535.5 168.2,535.2 169.2,534.8 170.2,534.2 171.2,533.4 172.2,532.6 173.2,531.5 174.2,530.3 175.2,529.0 176.2,527.5 177.2,526.0 178.2,524.3 179.2,522.5 180.2,520.7 181.2,518.8 182.2,516.9 183.2,515.0 184.2,513.0 185.2,511.0 186.2,509.0 187.2,507.0 188.2,504.9 189.2,502.9 190.2,500.9 191.2,498.9 192.2,496.9 193.2,494.9 194.2,493.0 195.2,491.1 196.2,489.3 197.2,487.5 198.2,485.8 199.2,484.1 200.2,482.5 201.2,481.0 202.2,479.5 203.2,478.1 204.2,476.7 205.2,475.4 206.2,474.2 207.2,473.0 208.2,471.8 209.2,470.8 210.2,469.7 211.2,468.7 212.2,467.8 213.2,466.9 214.2,466.0 215.2,465.2 216.2,464.4 217.2,463.7 218.2,463.0 219.2,462.3 220.2,461.7 221.2,461.1 222.2,460.6 223.2,460.0 224.2,459.5 225.2,459.0 226.2,458.6 227.2,458.2 228.2,457.8 229.2,457.4 230.2,457.1 231.2,456.7 232.2,456.4 233.2,456.1 234.2,455.9 235.2,455.6 236.2,455.4 237.2,455.2 238.2,454.9 239.2,454.7 240.2,454.6 241.2,454.4 242.2,454.2 243.2,454.0 244.2,453.9 245.2,453.7 246.2,453.6 247.2,453.4 248.2,453.3 249.2,453.1 250.2,453.0 251.2,452.8 252.2,452.6 253.2,452.5 254.2,452.3 255.2,452.1 256.2,452.0 257.2,451.8 258.2,451.6 259.2,451.4 260.2,451.2 261.2,451.0 262.2,450.8 263.2,450.6 264.2,450.4 265.2,450.2 266.2,450.0 267.2,449.8 268.2,449.6 269.2,449.4 270.2,449.2 271.2,449.0 272.2,448.8 273.2,448.6 274.2,448.4 275.2,448.2 276.2,448.0 277.2,447.8 278.2,447.6 279.2,447.4 280.2,447.2 281.2,447.1 282.2,446.9 283.2,446.7 284.2,446.5 285.2,446.4 286.2,446.2 287.2,446.1 288.2,445.9 289.2,445.8 290.2,445.7 291.2,445.5 292.2,445.4 293.2,445.3 293.3,445.3" fill="none" stroke="#3c3c3c" stroke-width="1.3" stroke-linejoin="round"/><line x1="46.20" y1="380.30" x2="46.20" y2="577.75" stroke="#333333" stroke-width="1.5"/><line x1="45.45" y1="577.00" x2="326.50" y2="577.00" stroke="#333333" stroke-width="1.5"/><line x1="41.80" y1="548.27" x2="46.20" y2="548.27" stroke="#333333" stroke-width="1.4"/><text x="42.60" y="552.57" font-size="13.3" text-anchor="end">.8</text><line x1="41.80" y1="509.00" x2="46.20" y2="509.00" stroke="#333333" stroke-width="1.4"/><text x="42.60" y="513.30" font-size="13.3" text-anchor="end">1</text><line x1="41.80" y1="476.91" x2="46.20" y2="476.91" stroke="#333333" stroke-width="1.4"/><text x="42.60" y="481.21" font-size="13.3" text-anchor="end">1.2</text><line x1="41.80" y1="449.78" x2="46.20" y2="449.78" stroke="#333333" stroke-width="1.4"/><text x="42.60" y="454.08" font-size="13.3" text-anchor="end">1.4</text><line x1="41.80" y1="426.28" x2="46.20" y2="426.28" stroke="#333333" stroke-width="1.4"/><text x="42.60" y="430.58" font-size="13.3" text-anchor="end">1.6</text><line x1="41.80" y1="405.55" x2="46.20" y2="405.55" stroke="#333333" stroke-width="1.4"/><text x="42.60" y="409.85" font-size="13.3" text-anchor="end">1.8</text><line x1="41.80" y1="387.01" x2="46.20" y2="387.01" stroke="#333333" stroke-width="1.4"/><text x="42.60" y="391.31" font-size="13.3" text-anchor="end">2</text><line x1="51.60" y1="577.00" x2="51.60" y2="581.00" stroke="#333333" stroke-width="1.4"/><text x="51.60" y="590.70" font-size="13.4" text-anchor="middle">−3</text><line x1="96.50" y1="577.00" x2="96.50" y2="581.00" stroke="#333333" stroke-width="1.4"/><text x="96.50" y="590.70" font-size="13.4" text-anchor="middle">−2</text><line x1="141.40" y1="577.00" x2="141.40" y2="581.00" stroke="#333333" stroke-width="1.4"/><text x="141.40" y="590.70" font-size="13.4" text-anchor="middle">−1</text><line x1="186.30" y1="577.00" x2="186.30" y2="581.00" stroke="#333333" stroke-width="1.4"/><text x="186.30" y="590.70" font-size="13.4" text-anchor="middle">0</text><line x1="231.20" y1="577.00" x2="231.20" y2="581.00" stroke="#333333" stroke-width="1.4"/><text x="231.20" y="590.70" font-size="13.4" text-anchor="middle">1</text><line x1="276.10" y1="577.00" x2="276.10" y2="581.00" stroke="#333333" stroke-width="1.4"/><text x="276.10" y="590.70" font-size="13.4" text-anchor="middle">2</text><line x1="321.00" y1="577.00" x2="321.00" y2="581.00" stroke="#333333" stroke-width="1.4"/><text x="321.00" y="590.70" font-size="13.4" text-anchor="middle">3</text><text transform="translate(14.00,473.40) rotate(-90)" font-size="17.5" text-anchor="middle">Hazard Ratios</text><text x="112.70" y="606.90" font-size="17.3" textLength="166.3" lengthAdjust="spacingAndGlyphs">Change of phosphate</text><text x="152.50" y="369.10" font-size="24">DN</text></g>
<g><line x1="402.40" y1="548.27" x2="682.70" y2="548.27" stroke="#ebf2f2" stroke-width="1.3"/><line x1="402.40" y1="476.91" x2="682.70" y2="476.91" stroke="#ebf2f2" stroke-width="1.3"/><line x1="402.40" y1="449.78" x2="682.70" y2="449.78" stroke="#ebf2f2" stroke-width="1.3"/><line x1="402.40" y1="426.28" x2="682.70" y2="426.28" stroke="#ebf2f2" stroke-width="1.3"/><line x1="402.40" y1="405.55" x2="682.70" y2="405.55" stroke="#ebf2f2" stroke-width="1.3"/><line x1="402.40" y1="387.01" x2="682.70" y2="387.01" stroke="#ebf2f2" stroke-width="1.3"/><line x1="401.80" y1="509.00" x2="683.10" y2="509.00" stroke="#333333" stroke-width="1.4" stroke-dasharray="5.8 1.71"/><line x1="542.90" y1="577.50" x2="542.90" y2="380.30" stroke="#333333" stroke-width="1.4" stroke-dasharray="5.8 1.72"/><path d="M430.8,463.2 L492.5,505.0 493.5,505.7 494.5,506.3 495.5,506.9 496.5,507.5 497.5,508.1 498.5,508.6 499.5,509.1 500.5,509.6 501.5,510.1 502.5,510.5 503.5,510.9 504.5,511.3 505.5,511.6 506.5,511.9 507.5,512.2 508.5,512.5 509.5,512.7 510.5,512.9 511.5,513.1 512.5,513.3 513.5,513.4 514.5,513.5 515.5,513.6 516.5,513.7 517.5,513.7 518.5,513.7 519.5,513.7 520.5,513.7 521.5,513.6 522.5,513.5 523.5,513.4 524.5,513.3 525.5,513.2 526.5,513.0 527.5,512.8 528.5,512.6 529.5,512.4 530.5,512.2 531.5,511.9 532.5,511.7 533.5,511.4 534.5,511.1 535.5,510.9 536.5,510.6 537.5,510.3 538.5,510.0 539.5,509.8 540.5,509.5 541.5,509.2 542.5,508.9 542.6,508.9 542.6,508.9 543.6,507.4 544.6,505.9 545.6,504.5 546.6,503.0 547.6,501.5 548.6,500.1 549.6,498.6 550.6,497.1 551.6,495.7 552.6,494.2 553.6,492.7 554.6,491.3 555.6,489.8 556.6,488.4 557.6,486.9 558.6,485.5 559.6,484.0 560.6,482.6 561.6,481.1 562.6,479.7 563.6,478.2 564.6,476.8 565.6,475.3 566.6,473.9 567.6,472.4 568.6,470.9 569.6,469.5 570.6,468.0 571.6,466.6 572.6,465.1 573.6,463.7 574.6,462.2 575.6,460.7 576.6,459.3 577.6,457.8 578.6,456.3 579.6,454.8 580.6,453.4 581.6,451.9 582.6,450.4 583.6,448.9 584.6,447.4 585.6,445.9 586.6,444.4 587.6,442.9 588.6,441.4 589.6,439.9 590.6,438.4 591.6,436.9 592.6,435.4 593.6,433.8 594.6,432.3 595.6,430.8 596.6,429.2 597.6,427.7 598.6,426.2 599.6,424.6 600.6,423.1 601.6,421.5 602.6,419.9 603.6,418.4 604.6,416.8 605.6,415.2 606.6,413.7 607.6,412.1 608.6,410.5 609.6,408.9 610.6,407.3 611.6,405.7 612.6,404.1 613.6,402.5 614.6,400.9 615.6,399.3 616.6,397.7 617.6,396.1 618.6,394.5 619.6,392.8 620.6,391.2 621.6,389.6 622.6,387.9 623.1,387.1 649.6,387.1 649.6,440.0 648.6,440.6 647.6,441.3 646.6,441.9 645.6,442.5 644.6,443.2 643.6,443.8 642.6,444.5 641.6,445.1 640.6,445.8 639.6,446.4 638.6,447.1 637.6,447.7 636.6,448.4 635.6,449.0 634.6,449.7 633.6,450.4 632.6,451.0 631.6,451.7 630.6,452.4 629.6,453.0 628.6,453.7 627.6,454.4 626.6,455.1 625.6,455.7 624.6,456.4 623.6,457.1 622.6,457.8 621.6,458.5 620.6,459.1 619.6,459.8 618.6,460.5 617.6,461.2 616.6,461.9 615.6,462.6 614.6,463.2 613.6,463.9 612.6,464.6 611.6,465.3 610.6,466.0 609.6,466.7 608.6,467.4 607.6,468.0 606.6,468.7 605.6,469.4 604.6,470.1 603.6,470.8 602.6,471.5 601.6,472.2 600.6,472.8 599.6,473.5 598.6,474.2 597.6,474.9 596.6,475.6 595.6,476.2 594.6,476.9 593.6,477.6 592.6,478.3 591.6,479.0 590.6,479.6 589.6,480.3 588.6,481.0 587.6,481.6 586.6,482.3 585.6,483.0 584.6,483.6 583.6,484.3 582.6,485.0 581.6,485.6 580.6,486.3 579.6,486.9 578.6,487.6 577.6,488.2 576.6,488.9 575.6,489.5 574.6,490.1 573.6,490.8 572.6,491.4 571.6,492.1 570.6,492.7 569.6,493.3 568.6,493.9 567.6,494.6 566.6,495.2 565.6,495.8 564.6,496.4 563.6,497.0 562.6,497.6 561.6,498.2 560.6,498.8 559.6,499.4 558.6,500.0 557.6,500.6 556.6,501.2 555.6,501.8 554.6,502.3 553.6,502.9 552.6,503.5 551.6,504.0 550.6,504.6 549.6,505.1 548.6,505.7 547.6,506.2 546.6,506.8 545.6,507.3 544.6,507.9 543.6,508.4 542.6,508.9 542.6,508.9 541.8,509.5 540.8,510.3 539.8,511.0 538.8,511.8 537.8,512.5 536.8,513.1 535.8,513.8 534.8,514.4 533.8,515.0 532.8,515.6 531.8,516.2 530.8,516.8 529.8,517.3 528.8,517.8 527.8,518.3 526.8,518.8 525.8,519.3 524.8,519.8 523.8,520.2 522.8,520.7 521.8,521.1 520.8,521.5 519.8,521.9 518.8,522.3 517.8,522.6 516.8,523.0 515.8,523.3 514.8,523.7 513.8,524.0 512.8,524.3 511.8,524.6 510.8,525.0 509.8,525.3 508.8,525.6 507.8,525.8 506.8,526.1 505.8,526.4 504.8,526.7 503.8,526.9 502.8,527.2 501.8,527.4 500.8,527.7 499.8,527.9 498.8,528.2 497.8,528.4 496.8,528.6 495.8,528.9 494.8,529.1 493.8,529.3 492.8,529.5 491.8,529.7 490.8,529.9 489.8,530.1 488.8,530.3 487.8,530.5 486.8,530.7 485.8,530.9 484.8,531.1 483.8,531.3 482.8,531.4 481.8,531.6 480.8,531.8 479.8,532.0 478.8,532.1 477.8,532.3 476.8,532.5 475.8,532.6 474.8,532.8 473.8,533.0 472.8,533.1 471.8,533.3 470.8,533.5 469.8,533.6 468.8,533.8 467.8,534.0 466.8,534.1 465.8,534.3 464.8,534.5 463.8,534.6 462.8,534.8 461.8,535.0 460.8,535.2 459.8,535.3 458.8,535.5 457.8,535.7 456.8,535.9 455.8,536.0 454.8,536.2 453.8,536.4 452.8,536.6 451.8,536.8 450.8,537.0 449.8,537.2 448.8,537.4 447.8,537.6 446.8,537.8 445.8,538.0 444.8,538.2 443.8,538.4 442.8,538.6 441.8,538.9 440.8,539.1 439.8,539.3 438.8,539.6 437.8,539.8 436.8,540.1 435.8,540.3 434.8,540.6 433.8,540.9 432.8,541.1 431.8,541.4 430.8,541.7 Z" fill="#aeaeae" fill-opacity="0.730" stroke="none"/><path d="M430.8,502.4 L431.8,502.7 432.8,503.0 433.8,503.3 434.8,503.6 435.8,503.8 436.8,504.1 437.8,504.4 438.8,504.7 439.8,505.0 440.8,505.3 441.8,505.6 442.8,505.9 443.8,506.2 444.8,506.5 445.8,506.8 446.8,507.1 447.8,507.4 448.8,507.7 449.8,508.0 450.8,508.3 451.8,508.6 452.8,508.9 453.8,509.2 454.8,509.5 455.8,509.8 456.8,510.1 457.8,510.4 458.8,510.6 459.8,510.9 460.8,511.2 461.8,511.5 462.8,511.8 463.8,512.1 464.8,512.3 465.8,512.6 466.8,512.9 467.8,513.1 468.8,513.4 469.8,513.7 470.8,513.9 471.8,514.2 472.8,514.4 473.8,514.7 474.8,514.9 475.8,515.2 476.8,515.4 477.8,515.6 478.8,515.9 479.8,516.1 480.8,516.3 481.8,516.5 482.8,516.7 483.8,516.9 484.8,517.1 485.8,517.3 486.8,517.5 487.8,517.7 488.8,517.9 489.8,518.1 490.8,518.2 491.8,518.4 492.8,518.5 493.8,518.7 494.8,518.8 495.8,519.0 496.8,519.1 497.8,519.2 498.8,519.3 499.8,519.5 500.8,519.6 501.8,519.7 502.8,519.7 503.8,519.8 504.8,519.9 505.8,519.9 506.8,520.0 507.8,520.0 508.8,520.0 509.8,520.0 510.8,520.0 511.8,520.0 512.8,519.9 513.8,519.9 514.8,519.8 515.8,519.7 516.8,519.6 517.8,519.5 518.8,519.3 519.8,519.1 520.8,518.9 521.8,518.7 522.8,518.5 523.8,518.2 524.8,517.9 525.8,517.6 526.8,517.3 527.8,517.0 528.8,516.6 529.8,516.2 530.8,515.7 531.8,515.3 532.8,514.8 533.8,514.2 534.8,513.7 535.8,513.1 536.8,512.5 537.8,511.8 538.8,511.2 539.8,510.5 540.8,509.7 541.8,509.0 542.8,508.2 543.8,507.4 544.8,506.6 545.8,505.8 546.8,504.9 547.8,504.0 548.8,503.2 549.8,502.3 550.8,501.4 551.8,500.5 552.8,499.5 553.8,498.6 554.8,497.7 555.8,496.7 556.8,495.8 557.8,494.8 558.8,493.8 559.8,492.9 560.8,491.9 561.8,490.9 562.8,489.9 563.8,488.9 564.8,487.9 565.8,486.8 566.8,485.8 567.8,484.8 568.8,483.7 569.8,482.7 570.8,481.6 571.8,480.6 572.8,479.5 573.8,478.4 574.8,477.3 575.8,476.2 576.8,475.2 577.8,474.1 578.8,473.0 579.8,471.9 580.8,470.8 581.8,469.6 582.8,468.5 583.8,467.4 584.8,466.3 585.8,465.2 586.8,464.0 587.8,462.9 588.8,461.7 589.8,460.6 590.8,459.5 591.8,458.3 592.8,457.2 593.8,456.0 594.8,454.9 595.8,453.7 596.8,452.5 597.8,451.4 598.8,450.2 599.8,449.1 600.8,447.9 601.8,446.7 602.8,445.6 603.8,444.4 604.8,443.2 605.8,442.0 606.8,440.9 607.8,439.7 608.8,438.5 609.8,437.3 610.8,436.2 611.8,435.0 612.8,433.8 613.8,432.7 614.8,431.5 615.8,430.3 616.8,429.1 617.8,428.0 618.8,426.8 619.8,425.6 620.8,424.5 621.8,423.3 622.8,422.1 623.8,421.0 624.8,419.8 625.8,418.7 626.8,417.5 627.8,416.3 628.8,415.2 629.8,414.0 630.8,412.9 631.8,411.8 632.8,410.6 633.8,409.5 634.8,408.4 635.8,407.2 636.8,406.1 637.8,405.0 638.8,403.9 639.8,402.8 640.8,401.6 641.8,400.5 642.8,399.4 643.8,398.3 644.8,397.3 645.8,396.2 646.8,395.1 647.8,394.0 648.8,393.0 649.6,392.1" fill="none" stroke="#3c3c3c" stroke-width="1.3" stroke-linejoin="round"/><line x1="402.40" y1="380.30" x2="402.40" y2="577.75" stroke="#333333" stroke-width="1.5"/><line x1="401.65" y1="577.00" x2="682.70" y2="577.00" stroke="#333333" stroke-width="1.5"/><line x1="398.00" y1="548.27" x2="402.40" y2="548.27" stroke="#333333" stroke-width="1.4"/><text x="398.80" y="552.57" font-size="13.3" text-anchor="end">.8</text><line x1="398.00" y1="509.00" x2="402.40" y2="509.00" stroke="#333333" stroke-width="1.4"/><text x="398.80" y="513.30" font-size="13.3" text-anchor="end">1</text><line x1="398.00" y1="476.91" x2="402.40" y2="476.91" stroke="#333333" stroke-width="1.4"/><text x="398.80" y="481.21" font-size="13.3" text-anchor="end">1.2</text><line x1="398.00" y1="449.78" x2="402.40" y2="449.78" stroke="#333333" stroke-width="1.4"/><text x="398.80" y="454.08" font-size="13.3" text-anchor="end">1.4</text><line x1="398.00" y1="426.28" x2="402.40" y2="426.28" stroke="#333333" stroke-width="1.4"/><text x="398.80" y="430.58" font-size="13.3" text-anchor="end">1.6</text><line x1="398.00" y1="405.55" x2="402.40" y2="405.55" stroke="#333333" stroke-width="1.4"/><text x="398.80" y="409.85" font-size="13.3" text-anchor="end">1.8</text><line x1="398.00" y1="387.01" x2="402.40" y2="387.01" stroke="#333333" stroke-width="1.4"/><text x="398.80" y="391.31" font-size="13.3" text-anchor="end">2</text><line x1="407.80" y1="577.00" x2="407.80" y2="581.00" stroke="#333333" stroke-width="1.4"/><text x="407.80" y="590.70" font-size="13.4" text-anchor="middle">−3</text><line x1="452.70" y1="577.00" x2="452.70" y2="581.00" stroke="#333333" stroke-width="1.4"/><text x="452.70" y="590.70" font-size="13.4" text-anchor="middle">−2</text><line x1="497.60" y1="577.00" x2="497.60" y2="581.00" stroke="#333333" stroke-width="1.4"/><text x="497.60" y="590.70" font-size="13.4" text-anchor="middle">−1</text><line x1="542.50" y1="577.00" x2="542.50" y2="581.00" stroke="#333333" stroke-width="1.4"/><text x="542.50" y="590.70" font-size="13.4" text-anchor="middle">0</text><line x1="587.40" y1="577.00" x2="587.40" y2="581.00" stroke="#333333" stroke-width="1.4"/><text x="587.40" y="590.70" font-size="13.4" text-anchor="middle">1</text><line x1="632.30" y1="577.00" x2="632.30" y2="581.00" stroke="#333333" stroke-width="1.4"/><text x="632.30" y="590.70" font-size="13.4" text-anchor="middle">2</text><line x1="677.20" y1="577.00" x2="677.20" y2="581.00" stroke="#333333" stroke-width="1.4"/><text x="677.20" y="590.70" font-size="13.4" text-anchor="middle">3</text><text transform="translate(370.20,473.40) rotate(-90)" font-size="17.5" text-anchor="middle">Hazard Ratios</text><text x="468.90" y="606.90" font-size="17.3" textLength="166.3" lengthAdjust="spacingAndGlyphs">Change of phosphate</text><text x="490.90" y="369.10" font-size="24">No DN</text></g>
<text x="230.0" y="656.0" font-size="23.5" textLength="237.9" lengthAdjust="spacingAndGlyphs">Baseline P ≥6.0 mg/dL</text>
<g><line x1="46.20" y1="866.37" x2="326.50" y2="866.37" stroke="#ebf2f2" stroke-width="1.3"/><line x1="46.20" y1="795.01" x2="326.50" y2="795.01" stroke="#ebf2f2" stroke-width="1.3"/><line x1="46.20" y1="767.88" x2="326.50" y2="767.88" stroke="#ebf2f2" stroke-width="1.3"/><line x1="46.20" y1="744.38" x2="326.50" y2="744.38" stroke="#ebf2f2" stroke-width="1.3"/><line x1="46.20" y1="723.65" x2="326.50" y2="723.65" stroke="#ebf2f2" stroke-width="1.3"/><line x1="46.20" y1="705.11" x2="326.50" y2="705.11" stroke="#ebf2f2" stroke-width="1.3"/><line x1="45.60" y1="827.10" x2="326.90" y2="827.10" stroke="#333333" stroke-width="1.4" stroke-dasharray="5.8 1.71"/><line x1="186.70" y1="895.60" x2="186.70" y2="699.00" stroke="#333333" stroke-width="1.4" stroke-dasharray="5.8 1.72"/><path d="M52.1,837.8 L53.1,838.0 54.1,838.2 55.1,838.4 56.1,838.5 57.1,838.7 58.1,838.9 59.1,839.0 60.1,839.2 61.1,839.3 62.1,839.5 63.1,839.6 64.1,839.7 65.1,839.8 66.1,839.9 67.1,840.0 68.1,840.1 69.1,840.2 70.1,840.3 71.1,840.4 72.1,840.5 73.1,840.5 74.1,840.6 75.1,840.6 76.1,840.7 77.1,840.7 78.1,840.8 79.1,840.8 80.1,840.8 81.1,840.9 82.1,840.9 83.1,840.9 84.1,840.9 85.1,840.9 86.1,840.9 87.1,840.9 88.1,840.9 89.1,840.8 90.1,840.8 91.1,840.8 92.1,840.8 93.1,840.7 94.1,840.7 95.1,840.6 96.1,840.6 97.1,840.5 98.1,840.5 99.1,840.4 100.1,840.3 101.1,840.3 102.1,840.2 103.1,840.1 104.1,840.0 105.1,839.9 106.1,839.8 107.1,839.7 108.1,839.6 109.1,839.5 110.1,839.4 111.1,839.3 112.1,839.2 113.1,839.1 114.1,839.0 115.1,838.8 116.1,838.7 117.1,838.6 118.1,838.5 119.1,838.3 120.1,838.2 121.1,838.0 122.1,837.9 123.1,837.8 124.1,837.6 125.1,837.5 126.1,837.3 127.1,837.1 128.1,837.0 129.1,836.8 130.1,836.7 131.1,836.5 132.1,836.3 133.1,836.2 134.1,836.0 135.1,835.8 136.1,835.7 137.1,835.5 138.1,835.3 139.1,835.1 140.1,835.0 141.1,834.8 142.1,834.6 143.1,834.4 144.1,834.2 145.1,834.1 146.1,833.9 147.1,833.7 148.1,833.5 149.1,833.3 150.1,833.1 151.1,833.0 152.1,832.8 153.1,832.6 154.1,832.4 155.1,832.2 156.1,832.0 157.1,831.8 158.1,831.7 159.1,831.5 160.1,831.3 161.1,831.1 162.1,830.9 163.1,830.7 164.1,830.6 165.1,830.4 166.1,830.2 167.1,830.0 168.1,829.8 169.1,829.6 170.1,829.5 171.1,829.3 172.1,829.1 173.1,828.9 174.1,828.8 175.1,828.6 176.1,828.4 177.1,828.3 178.1,828.1 179.1,827.9 180.1,827.8 181.1,827.6 182.1,827.4 183.1,827.3 184.1,827.1 185.1,827.0 186.1,826.8 186.3,826.8 186.3,826.8 275.0,755.0 275.0,811.2 186.3,826.8 186.3,826.8 186.1,826.9 185.1,827.6 184.1,828.2 183.1,828.9 182.1,829.5 181.1,830.2 180.1,830.9 179.1,831.5 178.1,832.2 177.1,832.9 176.1,833.5 175.1,834.2 174.1,834.9 173.1,835.5 172.1,836.2 171.1,836.9 170.1,837.5 169.1,838.2 168.1,838.9 167.1,839.6 166.1,840.2 165.1,840.9 164.1,841.5 163.1,842.2 162.1,842.9 161.1,843.5 160.1,844.2 159.1,844.8 158.1,845.4 157.1,846.1 156.1,846.7 155.1,847.3 154.1,848.0 153.1,848.6 152.1,849.2 151.1,849.8 150.1,850.4 149.1,851.0 148.1,851.6 147.1,852.2 146.1,852.7 145.1,853.3 144.1,853.9 143.1,854.4 142.1,855.0 141.1,855.5 140.1,856.0 139.1,856.5 138.1,857.0 137.1,857.5 136.1,858.0 135.1,858.5 134.1,858.9 133.1,859.4 132.1,859.8 131.1,860.3 130.1,860.7 129.1,861.1 128.1,861.5 127.1,861.9 126.1,862.3 125.1,862.7 124.1,863.1 123.1,863.4 122.1,863.8 121.1,864.1 120.1,864.5 119.1,864.8 118.1,865.2 117.1,865.5 116.1,865.8 115.1,866.1 114.1,866.4 113.1,866.7 112.1,867.0 111.1,867.3 110.1,867.5 109.1,867.8 108.1,868.1 107.1,868.3 106.1,868.6 105.1,868.8 104.1,869.1 103.1,869.3 102.1,869.6 101.1,869.8 100.1,870.0 99.1,870.3 98.1,870.5 97.1,870.7 96.1,870.9 95.1,871.1 94.1,871.3 93.1,871.5 92.1,871.7 91.1,871.9 90.1,872.1 89.1,872.3 88.1,872.5 87.1,872.7 86.1,872.9 85.1,873.1 84.1,873.3 83.1,873.5 82.1,873.7 81.1,873.8 80.1,874.0 79.1,874.2 78.1,874.4 77.1,874.6 76.1,874.8 75.1,874.9 74.1,875.1 73.1,875.3 72.1,875.5 71.1,875.7 70.1,875.9 69.1,876.1 68.1,876.3 67.1,876.5 66.1,876.7 65.1,876.9 64.1,877.1 63.1,877.3 62.1,877.5 61.1,877.7 60.1,877.9 59.1,878.1 58.1,878.3 57.1,878.5 56.1,878.8 55.1,879.0 54.1,879.2 53.1,879.5 52.1,879.7 Z" fill="#aeaeae" fill-opacity="0.730" stroke="none"/><path d="M52.1,858.7 L53.1,858.6 54.1,858.6 55.1,858.5 56.1,858.4 57.1,858.4 58.1,858.3 59.1,858.2 60.1,858.2 61.1,858.1 62.1,858.1 63.1,858.0 64.1,857.9 65.1,857.9 66.1,857.8 67.1,857.7 68.1,857.7 69.1,857.6 70.1,857.5 71.1,857.5 72.1,857.4 73.1,857.3 74.1,857.3 75.1,857.2 76.1,857.1 77.1,857.1 78.1,857.0 79.1,856.9 80.1,856.8 81.1,856.8 82.1,856.7 83.1,856.6 84.1,856.5 85.1,856.4 86.1,856.3 87.1,856.2 88.1,856.2 89.1,856.1 90.1,856.0 91.1,855.9 92.1,855.8 93.1,855.7 94.1,855.5 95.1,855.4 96.1,855.3 97.1,855.2 98.1,855.1 99.1,855.0 100.1,854.8 101.1,854.7 102.1,854.6 103.1,854.4 104.1,854.3 105.1,854.1 106.1,854.0 107.1,853.8 108.1,853.7 109.1,853.5 110.1,853.3 111.1,853.2 112.1,853.0 113.1,852.8 114.1,852.6 115.1,852.4 116.1,852.2 117.1,852.0 118.1,851.8 119.1,851.6 120.1,851.4 121.1,851.2 122.1,851.0 123.1,850.7 124.1,850.5 125.1,850.3 126.1,850.0 127.1,849.8 128.1,849.5 129.1,849.2 130.1,849.0 131.1,848.7 132.1,848.4 133.1,848.1 134.1,847.8 135.1,847.5 136.1,847.2 137.1,846.9 138.1,846.6 139.1,846.3 140.1,845.9 141.1,845.6 142.1,845.3 143.1,844.9 144.1,844.6 145.1,844.3 146.1,843.9 147.1,843.5 148.1,843.2 149.1,842.8 150.1,842.5 151.1,842.1 152.1,841.7 153.1,841.3 154.1,840.9 155.1,840.5 156.1,840.2 157.1,839.8 158.1,839.4 159.1,839.0 160.1,838.5 161.1,838.1 162.1,837.7 163.1,837.3 164.1,836.9 165.1,836.5 166.1,836.0 167.1,835.6 168.1,835.2 169.1,834.7 170.1,834.3 171.1,833.9 172.1,833.4 173.1,833.0 174.1,832.5 175.1,832.1 176.1,831.6 177.1,831.2 178.1,830.7 179.1,830.3 180.1,829.8 181.1,829.3 182.1,828.9 183.1,828.4 184.1,827.9 185.1,827.5 186.1,827.0 187.1,826.5 188.1,826.0 189.1,825.5 190.1,825.1 191.1,824.6 192.1,824.1 193.1,823.6 194.1,823.1 195.1,822.6 196.1,822.1 197.1,821.6 198.1,821.1 199.1,820.7 200.1,820.2 201.1,819.7 202.1,819.2 203.1,818.7 204.1,818.2 205.1,817.6 206.1,817.1 207.1,816.6 208.1,816.1 209.1,815.6 210.1,815.1 211.1,814.6 212.1,814.1 213.1,813.6 214.1,813.1 215.1,812.6 216.1,812.1 217.1,811.5 218.1,811.0 219.1,810.5 220.1,810.0 221.1,809.5 222.1,809.0 223.1,808.5 224.1,808.0 225.1,807.4 226.1,806.9 227.1,806.4 228.1,805.9 229.1,805.4 230.1,804.9 231.1,804.3 232.1,803.8 233.1,803.3 234.1,802.8 235.1,802.3 236.1,801.8 237.1,801.3 238.1,800.8 239.1,800.2 240.1,799.7 241.1,799.2 242.1,798.7 243.1,798.2 244.1,797.7 245.1,797.2 246.1,796.7 247.1,796.2 248.1,795.7 249.1,795.2 250.1,794.7 251.1,794.2 252.1,793.7 253.1,793.2 254.1,792.7 255.1,792.2 256.1,791.7 257.1,791.2 258.1,790.7 259.1,790.2 260.1,789.7 261.1,789.2 262.1,788.7 263.1,788.2 264.1,787.8 265.1,787.3 266.1,786.8 267.1,786.3 268.1,785.8 269.1,785.4 270.1,784.9 271.1,784.4 272.1,783.9 273.1,783.5 274.1,783.0 275.0,782.6" fill="none" stroke="#3c3c3c" stroke-width="1.3" stroke-linejoin="round"/><line x1="46.20" y1="699.00" x2="46.20" y2="895.85" stroke="#333333" stroke-width="1.5"/><line x1="45.45" y1="895.10" x2="326.50" y2="895.10" stroke="#333333" stroke-width="1.5"/><line x1="41.80" y1="866.37" x2="46.20" y2="866.37" stroke="#333333" stroke-width="1.4"/><text x="42.60" y="870.67" font-size="13.3" text-anchor="end">.8</text><line x1="41.80" y1="827.10" x2="46.20" y2="827.10" stroke="#333333" stroke-width="1.4"/><text x="42.60" y="831.40" font-size="13.3" text-anchor="end">1</text><line x1="41.80" y1="795.01" x2="46.20" y2="795.01" stroke="#333333" stroke-width="1.4"/><text x="42.60" y="799.31" font-size="13.3" text-anchor="end">1.2</text><line x1="41.80" y1="767.88" x2="46.20" y2="767.88" stroke="#333333" stroke-width="1.4"/><text x="42.60" y="772.18" font-size="13.3" text-anchor="end">1.4</text><line x1="41.80" y1="744.38" x2="46.20" y2="744.38" stroke="#333333" stroke-width="1.4"/><text x="42.60" y="748.68" font-size="13.3" text-anchor="end">1.6</text><line x1="41.80" y1="723.65" x2="46.20" y2="723.65" stroke="#333333" stroke-width="1.4"/><text x="42.60" y="727.95" font-size="13.3" text-anchor="end">1.8</text><line x1="41.80" y1="705.11" x2="46.20" y2="705.11" stroke="#333333" stroke-width="1.4"/><text x="42.60" y="709.41" font-size="13.3" text-anchor="end">2</text><line x1="51.60" y1="895.10" x2="51.60" y2="899.10" stroke="#333333" stroke-width="1.4"/><text x="51.60" y="908.80" font-size="13.4" text-anchor="middle">−3</text><line x1="96.50" y1="895.10" x2="96.50" y2="899.10" stroke="#333333" stroke-width="1.4"/><text x="96.50" y="908.80" font-size="13.4" text-anchor="middle">−2</text><line x1="141.40" y1="895.10" x2="141.40" y2="899.10" stroke="#333333" stroke-width="1.4"/><text x="141.40" y="908.80" font-size="13.4" text-anchor="middle">−1</text><line x1="186.30" y1="895.10" x2="186.30" y2="899.10" stroke="#333333" stroke-width="1.4"/><text x="186.30" y="908.80" font-size="13.4" text-anchor="middle">0</text><line x1="231.20" y1="895.10" x2="231.20" y2="899.10" stroke="#333333" stroke-width="1.4"/><text x="231.20" y="908.80" font-size="13.4" text-anchor="middle">1</text><line x1="276.10" y1="895.10" x2="276.10" y2="899.10" stroke="#333333" stroke-width="1.4"/><text x="276.10" y="908.80" font-size="13.4" text-anchor="middle">2</text><line x1="321.00" y1="895.10" x2="321.00" y2="899.10" stroke="#333333" stroke-width="1.4"/><text x="321.00" y="908.80" font-size="13.4" text-anchor="middle">3</text><text transform="translate(14.00,791.50) rotate(-90)" font-size="17.5" text-anchor="middle">Hazard Ratios</text><text x="108.40" y="925.00" font-size="17.3" textLength="165.0" lengthAdjust="spacingAndGlyphs">Change of phosphate</text><text x="152.50" y="688.60" font-size="24">DN</text></g>
<g><line x1="402.40" y1="866.37" x2="682.70" y2="866.37" stroke="#ebf2f2" stroke-width="1.3"/><line x1="402.40" y1="795.01" x2="682.70" y2="795.01" stroke="#ebf2f2" stroke-width="1.3"/><line x1="402.40" y1="767.88" x2="682.70" y2="767.88" stroke="#ebf2f2" stroke-width="1.3"/><line x1="402.40" y1="744.38" x2="682.70" y2="744.38" stroke="#ebf2f2" stroke-width="1.3"/><line x1="402.40" y1="723.65" x2="682.70" y2="723.65" stroke="#ebf2f2" stroke-width="1.3"/><line x1="402.40" y1="705.11" x2="682.70" y2="705.11" stroke="#ebf2f2" stroke-width="1.3"/><line x1="401.80" y1="827.10" x2="683.10" y2="827.10" stroke="#333333" stroke-width="1.4" stroke-dasharray="5.8 1.71"/><line x1="542.90" y1="895.60" x2="542.90" y2="699.00" stroke="#333333" stroke-width="1.4" stroke-dasharray="5.8 1.72"/><path d="M408.4,852.1 L409.4,852.2 410.4,852.3 411.4,852.4 412.4,852.4 413.4,852.5 414.4,852.6 415.4,852.6 416.4,852.7 417.4,852.8 418.4,852.8 419.4,852.9 420.4,852.9 421.4,853.0 422.4,853.0 423.4,853.1 424.4,853.1 425.4,853.1 426.4,853.2 427.4,853.2 428.4,853.2 429.4,853.2 430.4,853.2 431.4,853.2 432.4,853.2 433.4,853.2 434.4,853.2 435.4,853.2 436.4,853.2 437.4,853.2 438.4,853.2 439.4,853.1 440.4,853.1 441.4,853.1 442.4,853.0 443.4,853.0 444.4,852.9 445.4,852.9 446.4,852.8 447.4,852.8 448.4,852.7 449.4,852.6 450.4,852.6 451.4,852.5 452.4,852.4 453.4,852.3 454.4,852.2 455.4,852.1 456.4,852.0 457.4,851.9 458.4,851.8 459.4,851.7 460.4,851.5 461.4,851.4 462.4,851.3 463.4,851.1 464.4,851.0 465.4,850.9 466.4,850.7 467.4,850.5 468.4,850.4 469.4,850.2 470.4,850.0 471.4,849.8 472.4,849.7 473.4,849.5 474.4,849.3 475.4,849.1 476.4,848.9 477.4,848.6 478.4,848.4 479.4,848.2 480.4,848.0 481.4,847.7 482.4,847.5 483.4,847.2 484.4,847.0 485.4,846.7 486.4,846.5 487.4,846.2 488.4,845.9 489.4,845.7 490.4,845.4 491.4,845.1 492.4,844.8 493.4,844.5 494.4,844.2 495.4,843.9 496.4,843.6 497.4,843.3 498.4,842.9 499.4,842.6 500.4,842.3 501.4,842.0 502.4,841.6 503.4,841.3 504.4,841.0 505.4,840.6 506.4,840.3 507.4,839.9 508.4,839.6 509.4,839.3 510.4,838.9 511.4,838.5 512.4,838.2 513.4,837.8 514.4,837.5 515.4,837.1 516.4,836.7 517.4,836.4 518.4,836.0 519.4,835.6 520.4,835.3 521.4,834.9 522.4,834.5 523.4,834.1 524.4,833.8 525.4,833.4 526.4,833.0 527.4,832.6 528.4,832.2 529.4,831.9 530.4,831.5 531.4,831.1 532.4,830.7 533.4,830.3 534.4,829.9 535.4,829.6 536.4,829.2 537.4,828.8 538.4,828.4 539.4,828.0 540.4,827.6 541.4,827.2 542.4,826.9 542.8,826.7 542.8,826.7 631.9,742.7 631.9,789.0 542.8,826.7 542.8,826.7 542.4,827.1 541.4,828.2 540.4,829.3 539.4,830.3 538.4,831.4 537.4,832.4 536.4,833.4 535.4,834.4 534.4,835.4 533.4,836.4 532.4,837.3 531.4,838.3 530.4,839.2 529.4,840.2 528.4,841.1 527.4,842.0 526.4,842.9 525.4,843.7 524.4,844.6 523.4,845.4 522.4,846.3 521.4,847.1 520.4,847.9 519.4,848.7 518.4,849.5 517.4,850.3 516.4,851.0 515.4,851.8 514.4,852.5 513.4,853.2 512.4,853.9 511.4,854.6 510.4,855.3 509.4,856.0 508.4,856.6 507.4,857.3 506.4,857.9 505.4,858.5 504.4,859.1 503.4,859.7 502.4,860.3 501.4,860.9 500.4,861.4 499.4,862.0 498.4,862.5 497.4,863.0 496.4,863.5 495.4,864.0 494.4,864.5 493.4,865.0 492.4,865.4 491.4,865.9 490.4,866.3 489.4,866.7 488.4,867.1 487.4,867.5 486.4,867.9 485.4,868.3 484.4,868.6 483.4,869.0 482.4,869.3 481.4,869.7 480.4,870.0 479.4,870.3 478.4,870.6 477.4,870.9 476.4,871.2 475.4,871.5 474.4,871.7 473.4,872.0 472.4,872.3 471.4,872.5 470.4,872.8 469.4,873.0 468.4,873.2 467.4,873.5 466.4,873.7 465.4,873.9 464.4,874.1 463.4,874.3 462.4,874.5 461.4,874.7 460.4,874.9 459.4,875.1 458.4,875.3 457.4,875.5 456.4,875.7 455.4,875.9 454.4,876.1 453.4,876.2 452.4,876.4 451.4,876.6 450.4,876.8 449.4,877.0 448.4,877.1 447.4,877.3 446.4,877.5 445.4,877.7 444.4,877.8 443.4,878.0 442.4,878.2 441.4,878.4 440.4,878.5 439.4,878.7 438.4,878.9 437.4,879.1 436.4,879.3 435.4,879.5 434.4,879.6 433.4,879.8 432.4,880.0 431.4,880.2 430.4,880.4 429.4,880.6 428.4,880.8 427.4,881.0 426.4,881.3 425.4,881.5 424.4,881.7 423.4,881.9 422.4,882.2 421.4,882.4 420.4,882.6 419.4,882.9 418.4,883.1 417.4,883.4 416.4,883.7 415.4,883.9 414.4,884.2 413.4,884.5 412.4,884.8 411.4,885.1 410.4,885.4 409.4,885.7 408.4,886.0 Z" fill="#aeaeae" fill-opacity="0.730" stroke="none"/><path d="M408.4,869.1 L409.4,869.0 410.4,868.8 411.4,868.7 412.4,868.6 413.4,868.5 414.4,868.3 415.4,868.2 416.4,868.1 417.4,868.0 418.4,867.9 419.4,867.8 420.4,867.7 421.4,867.6 422.4,867.5 423.4,867.4 424.4,867.3 425.4,867.2 426.4,867.1 427.4,867.0 428.4,866.9 429.4,866.8 430.4,866.7 431.4,866.6 432.4,866.5 433.4,866.4 434.4,866.3 435.4,866.3 436.4,866.2 437.4,866.1 438.4,866.0 439.4,865.9 440.4,865.8 441.4,865.7 442.4,865.6 443.4,865.5 444.4,865.4 445.4,865.3 446.4,865.1 447.4,865.0 448.4,864.9 449.4,864.8 450.4,864.7 451.4,864.6 452.4,864.4 453.4,864.3 454.4,864.2 455.4,864.0 456.4,863.9 457.4,863.7 458.4,863.6 459.4,863.4 460.4,863.3 461.4,863.1 462.4,862.9 463.4,862.8 464.4,862.6 465.4,862.4 466.4,862.2 467.4,862.0 468.4,861.8 469.4,861.6 470.4,861.4 471.4,861.2 472.4,860.9 473.4,860.7 474.4,860.5 475.4,860.2 476.4,859.9 477.4,859.7 478.4,859.4 479.4,859.1 480.4,858.8 481.4,858.5 482.4,858.2 483.4,857.9 484.4,857.6 485.4,857.3 486.4,856.9 487.4,856.6 488.4,856.2 489.4,855.9 490.4,855.5 491.4,855.1 492.4,854.7 493.4,854.3 494.4,853.9 495.4,853.5 496.4,853.1 497.4,852.7 498.4,852.3 499.4,851.8 500.4,851.4 501.4,850.9 502.4,850.5 503.4,850.0 504.4,849.5 505.4,849.0 506.4,848.6 507.4,848.1 508.4,847.6 509.4,847.1 510.4,846.6 511.4,846.0 512.4,845.5 513.4,845.0 514.4,844.4 515.4,843.9 516.4,843.4 517.4,842.8 518.4,842.2 519.4,841.7 520.4,841.1 521.4,840.5 522.4,839.9 523.4,839.4 524.4,838.8 525.4,838.2 526.4,837.6 527.4,837.0 528.4,836.3 529.4,835.7 530.4,835.1 531.4,834.5 532.4,833.8 533.4,833.2 534.4,832.6 535.4,831.9 536.4,831.3 537.4,830.6 538.4,830.0 539.4,829.3 540.4,828.6 541.4,828.0 542.4,827.3 543.4,826.6 544.4,826.0 545.4,825.3 546.4,824.6 547.4,823.9 548.4,823.2 549.4,822.5 550.4,821.9 551.4,821.2 552.4,820.5 553.4,819.8 554.4,819.1 555.4,818.4 556.4,817.7 557.4,817.0 558.4,816.3 559.4,815.6 560.4,814.9 561.4,814.2 562.4,813.5 563.4,812.8 564.4,812.1 565.4,811.3 566.4,810.6 567.4,809.9 568.4,809.2 569.4,808.5 570.4,807.8 571.4,807.1 572.4,806.4 573.4,805.7 574.4,805.0 575.4,804.3 576.4,803.6 577.4,802.9 578.4,802.2 579.4,801.5 580.4,800.8 581.4,800.1 582.4,799.4 583.4,798.7 584.4,798.0 585.4,797.3 586.4,796.6 587.4,796.0 588.4,795.3 589.4,794.6 590.4,793.9 591.4,793.2 592.4,792.5 593.4,791.8 594.4,791.1 595.4,790.4 596.4,789.8 597.4,789.1 598.4,788.4 599.4,787.7 600.4,787.0 601.4,786.3 602.4,785.6 603.4,785.0 604.4,784.3 605.4,783.6 606.4,782.9 607.4,782.2 608.4,781.6 609.4,780.9 610.4,780.2 611.4,779.5 612.4,778.8 613.4,778.2 614.4,777.5 615.4,776.8 616.4,776.1 617.4,775.5 618.4,774.8 619.4,774.1 620.4,773.4 621.4,772.8 622.4,772.1 623.4,771.4 624.4,770.7 625.4,770.1 626.4,769.4 627.4,768.7 628.4,768.0 629.4,767.4 630.4,766.7 631.4,766.0 631.9,765.7" fill="none" stroke="#3c3c3c" stroke-width="1.3" stroke-linejoin="round"/><line x1="402.40" y1="699.00" x2="402.40" y2="895.85" stroke="#333333" stroke-width="1.5"/><line x1="401.65" y1="895.10" x2="682.70" y2="895.10" stroke="#333333" stroke-width="1.5"/><line x1="398.00" y1="866.37" x2="402.40" y2="866.37" stroke="#333333" stroke-width="1.4"/><text x="398.80" y="870.67" font-size="13.3" text-anchor="end">.8</text><line x1="398.00" y1="827.10" x2="402.40" y2="827.10" stroke="#333333" stroke-width="1.4"/><text x="398.80" y="831.40" font-size="13.3" text-anchor="end">1</text><line x1="398.00" y1="795.01" x2="402.40" y2="795.01" stroke="#333333" stroke-width="1.4"/><text x="398.80" y="799.31" font-size="13.3" text-anchor="end">1.2</text><line x1="398.00" y1="767.88" x2="402.40" y2="767.88" stroke="#333333" stroke-width="1.4"/><text x="398.80" y="772.18" font-size="13.3" text-anchor="end">1.4</text><line x1="398.00" y1="744.38" x2="402.40" y2="744.38" stroke="#333333" stroke-width="1.4"/><text x="398.80" y="748.68" font-size="13.3" text-anchor="end">1.6</text><line x1="398.00" y1="723.65" x2="402.40" y2="723.65" stroke="#333333" stroke-width="1.4"/><text x="398.80" y="727.95" font-size="13.3" text-anchor="end">1.8</text><line x1="398.00" y1="705.11" x2="402.40" y2="705.11" stroke="#333333" stroke-width="1.4"/><text x="398.80" y="709.41" font-size="13.3" text-anchor="end">2</text><line x1="407.80" y1="895.10" x2="407.80" y2="899.10" stroke="#333333" stroke-width="1.4"/><text x="407.80" y="908.80" font-size="13.4" text-anchor="middle">−3</text><line x1="452.70" y1="895.10" x2="452.70" y2="899.10" stroke="#333333" stroke-width="1.4"/><text x="452.70" y="908.80" font-size="13.4" text-anchor="middle">−2</text><line x1="497.60" y1="895.10" x2="497.60" y2="899.10" stroke="#333333" stroke-width="1.4"/><text x="497.60" y="908.80" font-size="13.4" text-anchor="middle">−1</text><line x1="542.50" y1="895.10" x2="542.50" y2="899.10" stroke="#333333" stroke-width="1.4"/><text x="542.50" y="908.80" font-size="13.4" text-anchor="middle">0</text><line x1="587.40" y1="895.10" x2="587.40" y2="899.10" stroke="#333333" stroke-width="1.4"/><text x="587.40" y="908.80" font-size="13.4" text-anchor="middle">1</text><line x1="632.30" y1="895.10" x2="632.30" y2="899.10" stroke="#333333" stroke-width="1.4"/><text x="632.30" y="908.80" font-size="13.4" text-anchor="middle">2</text><line x1="677.20" y1="895.10" x2="677.20" y2="899.10" stroke="#333333" stroke-width="1.4"/><text x="677.20" y="908.80" font-size="13.4" text-anchor="middle">3</text><text transform="translate(370.20,791.50) rotate(-90)" font-size="17.5" text-anchor="middle">Hazard Ratios</text><text x="464.60" y="925.00" font-size="17.3" textLength="165.0" lengthAdjust="spacingAndGlyphs">Change of phosphate</text><text x="490.90" y="688.60" font-size="24">No DN</text></g>
</svg></body></html>
